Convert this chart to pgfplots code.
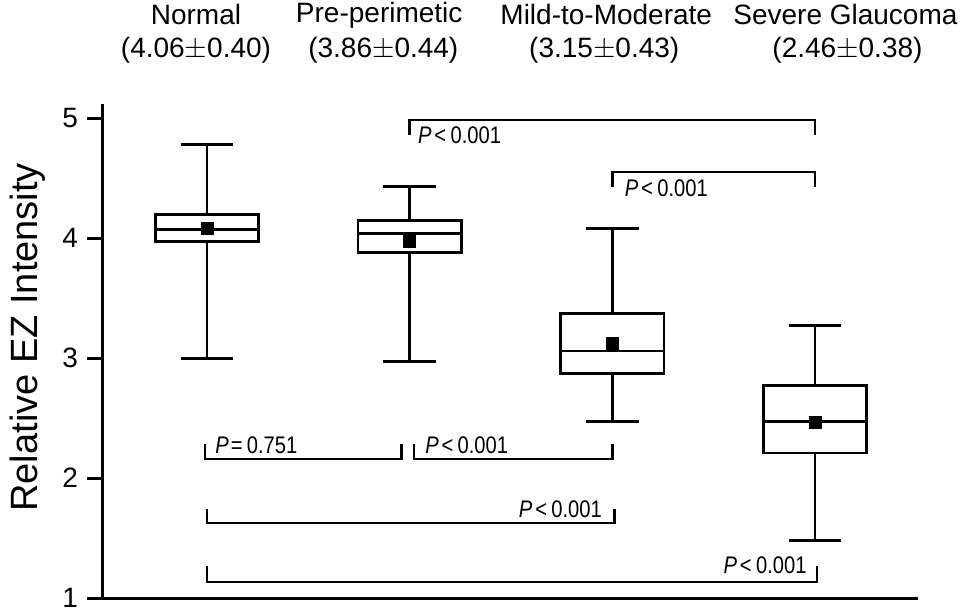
\documentclass[border=0pt]{standalone}
\usepackage{pgfplots}
\pgfplotsset{compat=1.18}
\usepgfplotslibrary{statistics}
\usepackage{fontspec}
\setmainfont{Liberation Sans}
\newfontfamily\pfont{Liberation Sans}[FakeStretch=0.84]
\begin{document}
\begin{tikzpicture}
\begin{axis}[
  scale only axis,
  width=407.5pt, height=247pt,
  xmin=0.487, xmax=4.508,
  ymin=1, ymax=5.117,
  axis lines=left,
  axis line style={-, line width=1.5pt},
  xtick=\empty,
  ytick={1,2,3,4,5},
  ytick pos=left,
  tick align=outside,
  major tick length=8pt,
  tick style={line width=1.5pt, black},
  /pgf/number format/assume math mode=true,
  yticklabel style={font=\fontsize{14}{16}\selectfont, xshift=-1pt},
  ylabel={Relative EZ Intensity},
  ylabel style={font=\fontsize{19}{22}\selectfont, at={(axis description cs:-0.092,0.528)}, anchor=center},
  boxplot/draw direction=y,
  clip=false,
]
% boxes
\addplot[black, solid, fill=white, line width=1.4pt, mark=none,
  boxplot prepared={draw position=1, lower whisker=3.0, lower quartile=3.97, median=4.075, upper quartile=4.20, upper whisker=4.78, box extend=0.51, whisker extend=0.26}] coordinates {};
\addplot[black, solid, fill=white, line width=1.4pt, mark=none,
  boxplot prepared={draw position=2, lower whisker=2.975, lower quartile=3.88, median=4.04, upper quartile=4.15, upper whisker=4.43, box extend=0.51, whisker extend=0.26}] coordinates {};
\addplot[black, solid, fill=white, line width=1.4pt, mark=none,
  boxplot prepared={draw position=3, lower whisker=2.475, lower quartile=2.875, median=3.06, upper quartile=3.375, upper whisker=4.08, box extend=0.51, whisker extend=0.26}] coordinates {};
\addplot[black, solid, fill=white, line width=1.4pt, mark=none,
  boxplot prepared={draw position=4, lower whisker=1.48, lower quartile=2.21, median=2.475, upper quartile=2.77, upper whisker=3.275, box extend=0.51, whisker extend=0.26}] coordinates {};
% means
\addplot[only marks, mark=square*, mark size=3pt, black] coordinates {(1,4.08) (2,3.975) (3,3.12) (4,2.465)};
% brackets
\addplot[black, line width=1.2pt, mark=none] coordinates {(2.0,4.858) (2.0,4.983) (4.0,4.983) (4.0,4.858)};
\addplot[black, line width=1.2pt, mark=none] coordinates {(3.0,4.425) (3.0,4.55) (4.0,4.55) (4.0,4.425)};
\addplot[black, line width=1.2pt, mark=none] coordinates {(0.99,2.283) (0.99,2.158) (1.96,2.158) (1.96,2.283)};
\addplot[black, line width=1.2pt, mark=none] coordinates {(2.02,2.283) (2.02,2.158) (3.0,2.158) (3.0,2.283)};
\addplot[black, line width=1.2pt, mark=none] coordinates {(1.0,1.742) (1.0,1.625) (3.01,1.625) (3.01,1.742)};
\addplot[black, line width=1.2pt, mark=none] coordinates {(1.0,1.267) (1.0,1.133) (4.01,1.133) (4.01,1.267)};
% p-values
\node[anchor=west, font=\pfont\fontsize{12}{14}\selectfont, inner sep=0pt] at (axis cs:2.04,4.86) {\textit{P}\hspace{0.12em}<\hspace{0.18em}0.001};
\node[anchor=west, font=\pfont\fontsize{12}{14}\selectfont, inner sep=0pt] at (axis cs:3.06,4.42) {\textit{P}\hspace{0.12em}<\hspace{0.18em}0.001};
\node[anchor=west, font=\pfont\fontsize{12}{14}\selectfont, inner sep=0pt] at (axis cs:1.04,2.275) {\textit{P}\hspace{0.08em}=\hspace{0.18em}0.751};
\node[anchor=west, font=\pfont\fontsize{12}{14}\selectfont, inner sep=0pt] at (axis cs:2.075,2.275) {\textit{P}\hspace{0.12em}<\hspace{0.18em}0.001};
\node[anchor=east, font=\pfont\fontsize{12}{14}\selectfont, inner sep=0pt] at (axis cs:2.95,1.74) {\textit{P}\hspace{0.12em}<\hspace{0.18em}0.001};
\node[anchor=east, font=\pfont\fontsize{12}{14}\selectfont, inner sep=0pt] at (axis cs:3.96,1.275) {\textit{P}\hspace{0.12em}<\hspace{0.18em}0.001};
% group labels
\node[font=\fontsize{14}{16}\selectfont, inner sep=0pt] at (axis cs:0.946,5.86) {Normal};
\node[font=\fontsize{14}{16}\selectfont, inner sep=0pt] at (axis cs:0.946,5.57) {(4.06$\pm$0.40)};
\node[font=\fontsize{14}{16}\selectfont, inner sep=0pt] at (axis cs:1.85,5.86) {Pre-perimetic};
\node[font=\fontsize{14}{16}\selectfont, inner sep=0pt] at (axis cs:1.87,5.57) {(3.86$\pm$0.44)};
\node[font=\fontsize{14}{16}\selectfont, inner sep=0pt] at (axis cs:2.97,5.86) {Mild-to-Moderate};
\node[font=\fontsize{14}{16}\selectfont, inner sep=0pt] at (axis cs:2.96,5.57) {(3.15$\pm$0.43)};
\node[font=\fontsize{14}{16}\selectfont, inner sep=0pt] at (axis cs:4.15,5.86) {Severe Glaucoma};
\node[font=\fontsize{14}{16}\selectfont, inner sep=0pt] at (axis cs:4.16,5.57) {(2.46$\pm$0.38)};
\coordinate (bbbl) at (axis cs:-0.021,0.868);
\coordinate (bbtr) at (axis cs:4.725,5.985);
\end{axis}
\pgfresetboundingbox
\path[use as bounding box] (bbbl) rectangle (bbtr);
\end{tikzpicture}
\end{document}
